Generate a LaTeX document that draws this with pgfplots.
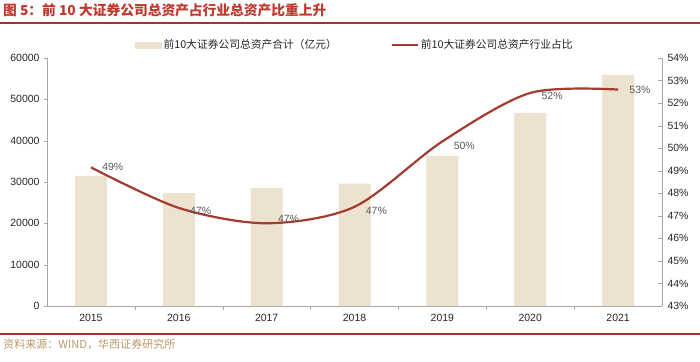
\documentclass[border=0pt]{standalone}
\usepackage{fontspec}
\setmainfont{Liberation Sans}
\newfontfamily\cjk{Noto Sans CJK SC}
\usepackage{pgfplots}
\pgfplotsset{compat=1.18}
\definecolor{barcol}{HTML}{EDE1CF}
\definecolor{linecol}{HTML}{A33B2F}
\definecolor{titlecol}{HTML}{C0392F}
\definecolor{rulecol}{HTML}{A8332E}
\definecolor{srccol}{HTML}{B99A6B}
\definecolor{axcol}{HTML}{A6A6A6}
\definecolor{lblcol}{HTML}{595959}
\definecolor{tickcol}{HTML}{262626}
\newcommand{\lb}[2]{\raisebox{#1}[\height][\depth]{#2}}
\begin{document}
\begin{tikzpicture}[x=1bp,y=1bp]
\useasboundingbox[fill=white] (0,0) rectangle (700,361);
\node[anchor=west, text=titlecol, font=\cjk\bfseries\fontsize{13.8}{15}\selectfont, inner sep=0] at (3,351) {图 5：前 10 大证券公司总资产占行业总资产比重上升};
\draw[rulecol, line width=1.8bp] (0,338) -- (700,338);
\draw[rulecol, line width=1.8bp] (0,27) -- (700,27);
\node[anchor=west, text=srccol, font=\cjk\fontsize{11.1}{12}\selectfont, inner sep=0] at (3,17) {资料来源：WIND，华西证券研究所};
\begin{axis}[
  at={(47bp,55bp)}, anchor=south west,
  scale only axis, width=615bp, height=248bp,
  xmin=-0.5, xmax=6.5, ymin=0, ymax=60000,
  axis x line*=bottom, axis y line*=left,
  axis line style={axcol, line width=0.6bp},
  xtick={0,...,6},
  xticklabels={2015,2016,2017,2018,2019,2020,2021},
  major x tick style={draw=none},
  minor xtick={0.5,1.5,...,5.5},
  minor x tick style={axcol},
  minor tick length=4bp,
  ytick={0,10000,...,60000},
  y tick style={axcol},
  major tick length=3bp,
  tick align=outside,
  scaled y ticks=false,
  /pgf/number format/fixed,
  /pgf/number format/1000 sep={},
  /pgf/number format/assume math mode=true,
  ticklabel style={font=\fontsize{10.5}{12}\selectfont, text=tickcol},
  xticklabel style={yshift=-2bp},
  yticklabel style={xshift=-1bp},
  clip=false,
]
\addplot[ybar, bar width=32bp, fill=barcol, draw=none] coordinates {
(0,31500) (1,27300) (2,28600) (3,29600) (4,36300) (5,46700) (6,55900)};
\end{axis}
\begin{axis}[
  at={(47bp,55bp)}, anchor=south west,
  scale only axis, width=615bp, height=248bp,
  xmin=-0.5, xmax=6.5, ymin=43, ymax=54,
  axis x line=none, axis y line*=right,
  axis line style={axcol, line width=0.6bp},
  ytick={43,44,...,54},
  /pgf/number format/assume math mode=true,
  yticklabel={\pgfmathprintnumber{\tick}\%},
  y tick style={axcol},
  major tick length=4bp,
  tick align=inside,
  ticklabel style={font=\fontsize{10.5}{12}\selectfont, text=tickcol},
  yticklabel style={xshift=2bp},
  clip=false,
  legend columns=2,
  legend style={draw=none, fill=none, at={(0.143,1.052)}, anchor=west, inner sep=0pt,
    font=\cjk\fontsize{10.8}{12}\selectfont, text=tickcol,
    /tikz/every even column/.append style={column sep=52bp}},
]
\addlegendimage{legend image code/.code={\fill[barcol] (0bp,-3bp) rectangle (26bp,3bp);}}
\addlegendentry{前10大证券公司总资产合计（亿元）}
\addlegendimage{legend image code/.code={\draw[linecol, line width=2bp] (0bp,0bp) -- (26bp,0bp);}}
\addlegendentry{前10大证券公司总资产行业占比}
\addplot[linecol, line width=2.2bp, smooth, tension=0.5, mark=none,
  nodes near coords, point meta=explicit symbolic,
  every node near coord/.append style={anchor=west, xshift=7bp, text=lblcol, font=\fontsize{10.5}{12}\selectfont}]
coordinates {
(0,49.15) [\lb{0bp}{49\%}]
(1,47.35) [\lb{-3bp}{47\%}]
(2,46.67) [\lb{4bp}{47\%}]
(3,47.40) [\lb{-4bp}{47\%}]
(4,50.30) [\lb{-4bp}{50\%}]
(5,52.45) [\lb{-3bp}{52\%}]
(6,52.60) [\lb{0bp}{53\%}]};
\end{axis}
\end{tikzpicture}
\end{document}
